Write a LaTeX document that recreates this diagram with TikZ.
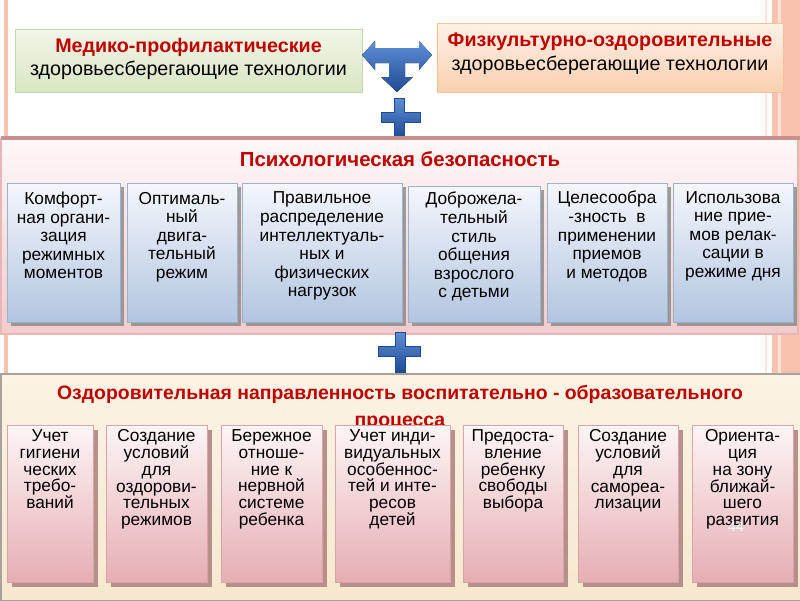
\documentclass[tikz,border=0pt]{standalone}
\usepackage{fontspec}
\setmainfont{Liberation Sans}
\usetikzlibrary{positioning, fit, shadows}
\definecolor{titleRed}{HTML}{C00000}
\definecolor{stripeSalmon}{HTML}{F8C2AE}
\definecolor{stripeLight}{HTML}{FDE3D8}
\definecolor{greenTop}{HTML}{F2F6EA}
\definecolor{greenBot}{HTML}{D8E6C2}
\definecolor{greenEdge}{HTML}{C3D8A5}
\definecolor{orangeTop}{HTML}{FEF1E6}
\definecolor{orangeBot}{HTML}{FAD0B0}
\definecolor{orangeEdge}{HTML}{F3C09A}
\definecolor{arrowTop}{HTML}{5E8FD6}
\definecolor{arrowBot}{HTML}{1E4B94}
\definecolor{psyTop}{HTML}{FEF7F7}
\definecolor{psyBot}{HTML}{F2CBCB}
\definecolor{psyEdge}{HTML}{E7B7B7}
\definecolor{psyBand}{HTML}{C99090}
\definecolor{blueTop}{HTML}{F4F7FC}
\definecolor{blueBot}{HTML}{B3C5E0}
\definecolor{blueEdge}{HTML}{9DB1CE}
\definecolor{blueShadow}{HTML}{8C8C8C}
\definecolor{creamTop}{HTML}{FBF3E4}
\definecolor{creamBot}{HTML}{F6E8CE}
\definecolor{creamEdge}{HTML}{A8A29A}
\definecolor{pinkTop}{HTML}{FEF5F5}
\definecolor{pinkBot}{HTML}{E5AEB3}
\definecolor{pinkEdge}{HTML}{D9A3A8}
\definecolor{pinkShadow}{HTML}{B08684}
\tikzset{
    slideGreenBlock/.style={
        draw=greenEdge, top color=greenTop, bottom color=greenBot, line width=0.5pt, inner sep=0pt
    },
    slideOrangeBlock/.style={
        draw=orangeEdge, top color=orangeTop, bottom color=orangeBot, line width=0.5pt, inner sep=0pt
    },
    slideHeadText/.style={
        anchor=north, inner sep=0pt, align=center, font=\fontsize{14}{16.6}\selectfont
    },
    slideTitle/.style={
        anchor=north, inner sep=0pt, align=center, text=titleRed, font=\bfseries\fontsize{14.5}{19}\selectfont
    },
    slideBlueBox/.style={
        draw=blueEdge, top color=blueTop, bottom color=blueBot, line width=0.6pt, inner sep=0pt,
        drop shadow={shadow xshift=3pt, shadow yshift=-3pt, fill=blueShadow, opacity=0.85}
    },
    slidePinkBox/.style={
        draw=pinkEdge, top color=pinkTop, bottom color=pinkBot, line width=0.6pt, inner sep=0pt,
        drop shadow={shadow xshift=3.5pt, shadow yshift=-3.5pt, fill=pinkShadow, opacity=0.9}
    },
    slideBlueText/.style={
        inner sep=0pt, align=center, font=\fontsize{12.3}{13.2}\selectfont
    },
    slidePinkText/.style={
        inner sep=0pt, align=center, font=\fontsize{12.3}{11.9}\selectfont
    },
    slidePlus/.style={
        top color=arrowTop, bottom color=arrowBot, draw=arrowBot, line width=0.3pt
    }
}
\begin{document}
\begin{tikzpicture}[x=0.025cm, y=-0.025cm]
    \useasboundingbox (0,0) rectangle (800,600);
    \fill[white] (0,0) rectangle (800,600);

    % ── SIDE STRIPES
    \fill[stripeSalmon] (4,0) rectangle (8,600);
    \fill[stripeSalmon] (772,0) rectangle (800,600);
    \fill[stripeLight] (778,0) rectangle (781,600);
    \draw[stripeLight, line width=1.2pt] (766,0) -- (766,600);

    % ── TOP: TWO TECHNOLOGY BLOCKS
    \node[slideGreenBlock, fit={(15,29) (362,92)}] (medBlock) {};
    \node[slideHeadText] (medText) at (188.5,38) {{\bfseries\color{titleRed}Медико-профилактические}\\здоровьесберегающие технологии};
    \node[slideOrangeBlock, fit={(437,23) (783,92)}] (sportBlock) {};
    \node[slideHeadText] (sportText) at (610,33) {{\bfseries\color{titleRed}Физкультурно-оздоровительные}\\здоровьесберегающие технологии};

    % three-headed arrow between blocks
    \fill[top color=arrowTop, bottom color=arrowBot] (362,55) -- (375,41) -- (375,48) -- (419,48) -- (419,41) -- (432,55)
        -- (419,70) -- (419,63) -- (405,63) -- (405,77) -- (413,77) -- (397,92) -- (381,77) -- (389,77)
        -- (389,63) -- (375,63) -- (375,70) -- cycle;
    % plus signs
    \filldraw[slidePlus] (394,98) -- (404,98) -- (404,112) -- (420,112) -- (420,122) -- (404,122) -- (404,137)
        -- (394,137) -- (394,122) -- (381,122) -- (381,112) -- (394,112) -- cycle;

    % ── MIDDLE PANEL: PSYCHOLOGICAL SAFETY
    \node[draw=psyEdge, line width=2pt, top color=psyTop, bottom color=psyBot, inner sep=0pt, fit={(1,139) (798,334)}] (psyPanel) {};
    \fill[psyBand] (1,136) rectangle (800,140);
    \node[slideTitle] (psyTitle) at (400,151.5) {Психологическая безопасность};

    \node[slideBlueBox, fit={(7,183) (120,322)}] (comfortBox) {};
    \node[slideBlueBox, fit={(127,183) (237,322)}] (motorBox) {};
    \node[slideBlueBox, fit={(242,183) (402,322)}] (loadBox) {};
    \node[slideBlueBox, fit={(408,186) (540,322)}] (styleBox) {};
    \node[slideBlueBox, fit={(547,183) (667,322)}] (methodBox) {};
    \node[slideBlueBox, fit={(673,183) (793,322)}] (relaxBox) {};

    \node[slideBlueText, below=6.5pt of comfortBox.north] (comfortText) {Комфорт-\\ная органи-\\зация\\режимных\\моментов};
    \node[slideBlueText, below=6.5pt of motorBox.north] (motorText) {Оптималь-\\ный\\двига-\\тельный\\режим};
    \node[slideBlueText, below=6.5pt of loadBox.north] (loadText) {Правильное\\распределение\\интеллектуаль-\\ных и\\физических\\нагрузок};
    \node[slideBlueText, below=4.5pt of styleBox.north] (styleText) {Доброжела-\\тельный\\стиль\\общения\\взрослого\\с детьми};
    \node[slideBlueText, below=6pt of methodBox.north] (methodText) {Целесообра\\-зность~~в\\применении\\приемов\\и методов};
    \node[slideBlueText, below=6pt of relaxBox.north] (relaxText) {Использова\\ние прие-\\мов релак-\\сации в\\режиме дня};

    \filldraw[slidePlus] (395,332) -- (405,332) -- (405,346) -- (420,346) -- (420,356) -- (405,356) -- (405,372)
        -- (395,372) -- (395,356) -- (378,356) -- (378,346) -- (395,346) -- cycle;

    % ── BOTTOM PANEL: HEALTH ORIENTATION
    \node[draw=creamEdge, line width=0.8pt, top color=creamTop, bottom color=creamBot, inner sep=0pt, fit={(1,374) (801,601)}] (healthPanel) {};
    \node[slideTitle, font=\bfseries\fontsize{13.8}{19.5}\selectfont] (healthTitle) at (400,385) {Оздоровительная направленность воспитательно - образовательного\\процесса};

    \node[slidePinkBox, fit={(7,425) (93,582)}] (hygieneBox) {};
    \node[slidePinkBox, fit={(106,425) (207,582)}] (regimeBox) {};
    \node[slidePinkBox, fit={(221,425) (322,582)}] (nerveBox) {};
    \node[slidePinkBox, fit={(335,425) (450,582)}] (individBox) {};
    \node[slidePinkBox, fit={(463,425) (563,582)}] (choiceBox) {};
    \node[slidePinkBox, fit={(578,425) (678,582)}] (selfBox) {};
    \node[slidePinkBox, fit={(692,425) (793,582)}] (zoneBox) {};

    \node[slidePinkText, below=3.5pt of hygieneBox.north] (hygieneText) {Учет\\гигиени\\ческих\\требо-\\ваний};
    \node[slidePinkText, below=3.5pt of regimeBox.north] (regimeText) {Создание\\условий\\для\\оздорови-\\тельных\\режимов};
    \node[slidePinkText, below=3.5pt of nerveBox.north] (nerveText) {Бережное\\отноше-\\ние к\\нервной\\системе\\ребенка};
    \node[slidePinkText, below=3.5pt of individBox.north] (individText) {Учет инди-\\видуальных\\особеннос-\\тей и инте-\\ресов\\детей};
    \node[slidePinkText, below=3.5pt of choiceBox.north] (choiceText) {Предоста-\\вление\\ребенку\\свободы\\выбора};
    \node[slidePinkText, below=3.5pt of selfBox.north] (selfText) {Создание\\условий\\для\\самореа-\\лизации};
    \node[slidePinkText, below=3.5pt of zoneBox.north] (zoneText) {Ориента-\\ция\\на зону\\ближай-\\шего\\развития};

    % slide number
    \node[text=white, inner sep=0pt, font=\fontsize{10}{12}\selectfont] (slideNum) at (736,527) {44};
\end{tikzpicture}
\end{document}
